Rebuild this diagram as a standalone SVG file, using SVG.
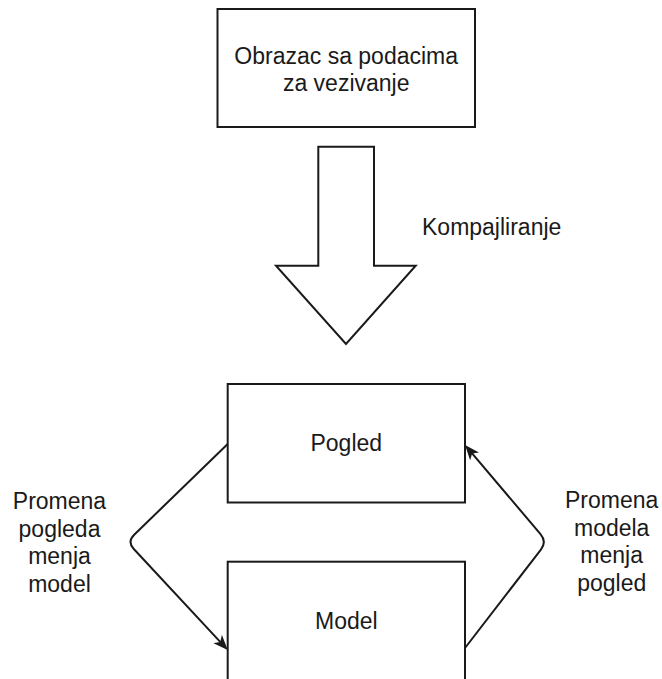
<svg xmlns="http://www.w3.org/2000/svg" width="662" height="679" viewBox="0 0 662 679">
  <style>
    .box { fill: #ffffff; stroke: #1a1a1a; stroke-width: 2; }
    .lbl { font-family: "Liberation Sans", Arial, sans-serif; font-size: 23px; fill: #1a1a1a; text-anchor: middle; }
    .edge { fill: none; stroke: #1a1a1a; stroke-width: 2; }
  </style>
  <defs>
    <marker id="arrow" viewBox="0 0 15 12" markerWidth="15" markerHeight="12" refX="7" refY="6" orient="auto" markerUnits="userSpaceOnUse">
      <path d="M0,0 L15,6 L0,12 L4,6 Z" fill="#1a1a1a"/>
    </marker>
  </defs>
  <rect width="662" height="679" fill="#ffffff"/>

  <g id="template">
    <rect class="box" x="217.5" y="9" width="257.5" height="118"/>
    <text class="lbl" x="346.2" y="63.5">Obrazac sa podacima</text>
    <text class="lbl" x="346.2" y="90.5">za vezivanje</text>
  </g>

  <g id="compile">
    <polygon class="box" points="318.3,146.7 374,146.7 374,265.7 415.7,265.7 346,344 276,265.7 318.3,265.7"/>
    <text class="lbl" x="422" y="235" style="text-anchor:start">Kompajliranje</text>
  </g>

  <g id="view">
    <rect class="box" x="227.7" y="384" width="237.3" height="118.5"/>
    <text class="lbl" x="346.3" y="451">Pogled</text>
  </g>

  <g id="model">
    <rect class="box" x="227.7" y="561.7" width="237.3" height="118.5"/>
    <text class="lbl" x="346.3" y="629">Model</text>
  </g>

  <g id="connectors">
    <path class="edge" d="M227.7,444 L134.2,534.7 Q127,541.7 133.8,549 L222.3,644.1" marker-end="url(#arrow)"/>
    <path class="edge" d="M465,648 L540.9,549.6 Q547,541.7 540.5,534.1 L470.2,451.1" marker-end="url(#arrow)"/>
  </g>

  <g id="edge-labels">
    <text class="lbl" x="59.5" y="509">Promena</text>
    <text class="lbl" x="59.5" y="536.5">pogleda</text>
    <text class="lbl" x="59.5" y="564">menja</text>
    <text class="lbl" x="59.5" y="591.5">model</text>
    <text class="lbl" x="611.7" y="508">Promena</text>
    <text class="lbl" x="611.7" y="535.5">modela</text>
    <text class="lbl" x="611.7" y="563">menja</text>
    <text class="lbl" x="611.7" y="590.5">pogled</text>
  </g>
</svg>
